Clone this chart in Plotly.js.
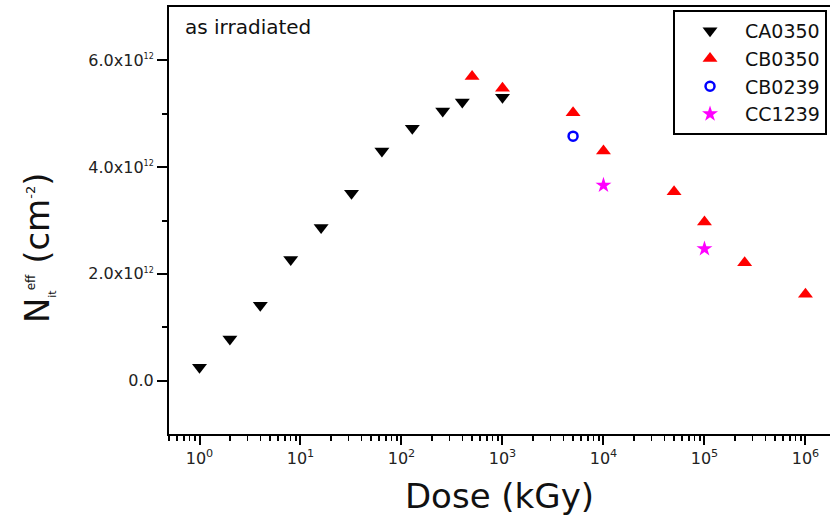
<!DOCTYPE html>
<html>
<head>
<meta charset="utf-8">
<script src="https://cdn.plot.ly/plotly-3.0.1.min.js"></script>
<style>html,body{margin:0;padding:0;background:#fff;}#chart{width:830px;height:519px;}</style>
</head>
<body>
<div id="chart"></div>
<script>
// CA0350 (as irradiated)
const caDose = [1, 2, 4, 8, 16, 32, 64, 128, 256, 400, 1000];
const caNit = [2.5e11, 7.8e11, 1.41e12, 2.27e12, 2.87e12, 3.51e12, 4.30e12, 4.73e12, 5.05e12, 5.22e12, 5.31e12];
// CB0350
const cbDose = [500, 1000, 5000, 10000, 50000, 100000, 250000, 1000000];
const cbNit = [5.70e12, 5.48e12, 5.02e12, 4.30e12, 3.54e12, 2.97e12, 2.21e12, 1.62e12];
// CB0239
const cb0239Dose = [5000];
const cb0239Nit = [4.58e12];
// CC1239
const ccDose = [10000, 100000];
const ccNit = [3.66e12, 2.47e12];

const seriesNames = ['CA0350', 'CB0350', 'CB0239', 'CC1239'];

const xTickVals = [1, 10, 100, 1000, 10000, 100000, 1000000];
const xTickText = ['10<sup>0</sup>', '10<sup>1</sup>', '10<sup>2</sup>', '10<sup>3</sup>', '10<sup>4</sup>', '10<sup>5</sup>', '10<sup>6</sup>'];
const yTickVals = [0, 2e12, 4e12, 6e12];
const yTickText = ['0.0', '2.0x10<sup><span style="font-size:8px">12</span></sup>', '4.0x10<sup><span style="font-size:8px">12</span></sup>', '6.0x10<sup><span style="font-size:8px">12</span></sup>'];
const yMinorVals = [1e12, 3e12, 5e12];

const traces = [
  {x: caDose, y: caNit, name: seriesNames[0], type: 'scatter', mode: 'markers',
   marker: {symbol: 'triangle-down', size: 13, color: '#000000'}},
  {x: cbDose, y: cbNit, name: seriesNames[1], type: 'scatter', mode: 'markers',
   marker: {symbol: 'triangle-up', size: 13, color: '#ff0000'}},
  {x: cb0239Dose, y: cb0239Nit, name: seriesNames[2], type: 'scatter', mode: 'markers',
   marker: {symbol: 'circle-open', size: 9, color: '#0000ff', line: {width: 2.5, color: '#0000ff'}}},
  {x: ccDose, y: ccNit, name: seriesNames[3], type: 'scatter', mode: 'markers',
   marker: {symbol: 'star', size: 12, color: '#ff00ff', line: {width: 0}}}
];

const layout = {
  width: 830, height: 519,
  margin: {l: 169, r: 0, t: 7, b: 85, pad: 0},
  paper_bgcolor: '#ffffff', plot_bgcolor: '#ffffff',
  font: {family: 'DejaVu Sans, Arial, sans-serif', color: '#111111'},
  showlegend: true,
  xaxis: {
    type: 'log', range: [-0.302, 6.243],
    tickmode: 'array', tickvals: xTickVals, ticktext: xTickText,
    ticks: 'outside', ticklen: 9, tickwidth: 2, tickcolor: '#000',
    minor: {dtick: 'D1', ticks: 'outside', ticklen: 5, tickwidth: 1.5, tickcolor: '#000', showgrid: false},
    showline: true, linewidth: 2, linecolor: '#000', mirror: true,
    showgrid: false, zeroline: false,
    tickfont: {family: 'DejaVu Sans, Arial, sans-serif', size: 16, color: '#222'},
    title: {text: 'Dose (kGy)', font: {family: 'DejaVu Sans, Arial, sans-serif', size: 34, color: '#111'}, standoff: 17},
    automargin: false
  },
  yaxis: {
    range: [-1e12, 7e12],
    tickmode: 'array', tickvals: yTickVals, ticktext: yTickText,
    ticks: 'outside', ticklen: 10, tickwidth: 2, tickcolor: '#000',
    minor: {tickmode: 'array', tickvals: yMinorVals, ticks: 'outside', ticklen: 5, tickwidth: 2, tickcolor: '#000', showgrid: false},
    showline: true, linewidth: 2, linecolor: '#000', mirror: false,
    showgrid: false, zeroline: false,
    tickfont: {family: 'DejaVu Sans, Arial, sans-serif', size: 16, color: '#222'},
    automargin: false
  },
  legend: {
    x: 0.9955, xanchor: 'right', y: 0.993, yanchor: 'top',
    bgcolor: '#ffffff', bordercolor: '#000000', borderwidth: 2,
    font: {family: 'DejaVu Sans, Arial, sans-serif', size: 19, color: '#111'},
    itemwidth: 60, tracegroupgap: 0
  },
  annotations: [
    {text: 'as irradiated', xref: 'paper', yref: 'paper', x: 0.0212, y: 0.953, xanchor: 'left', yanchor: 'middle',
     showarrow: false, font: {family: 'DejaVu Sans, Arial, sans-serif', size: 20, color: '#111'}},
    {text: 'N<sub><span style="font-size:11px">it</span></sub><sup><span style="font-size:12px">eff</span></sup> (cm<sup><span style="font-size:13px">-2</span></sup>)',
     xref: 'paper', yref: 'paper', x: -0.198, y: 0.4356, xanchor: 'center', yanchor: 'middle', textangle: -90,
     showarrow: false, font: {family: 'DejaVu Sans, Arial, sans-serif', size: 34, color: '#111'}}
  ]
};

Plotly.newPlot('chart', traces, layout, {displayModeBar: false, staticPlot: true});
</script>
</body>
</html>
